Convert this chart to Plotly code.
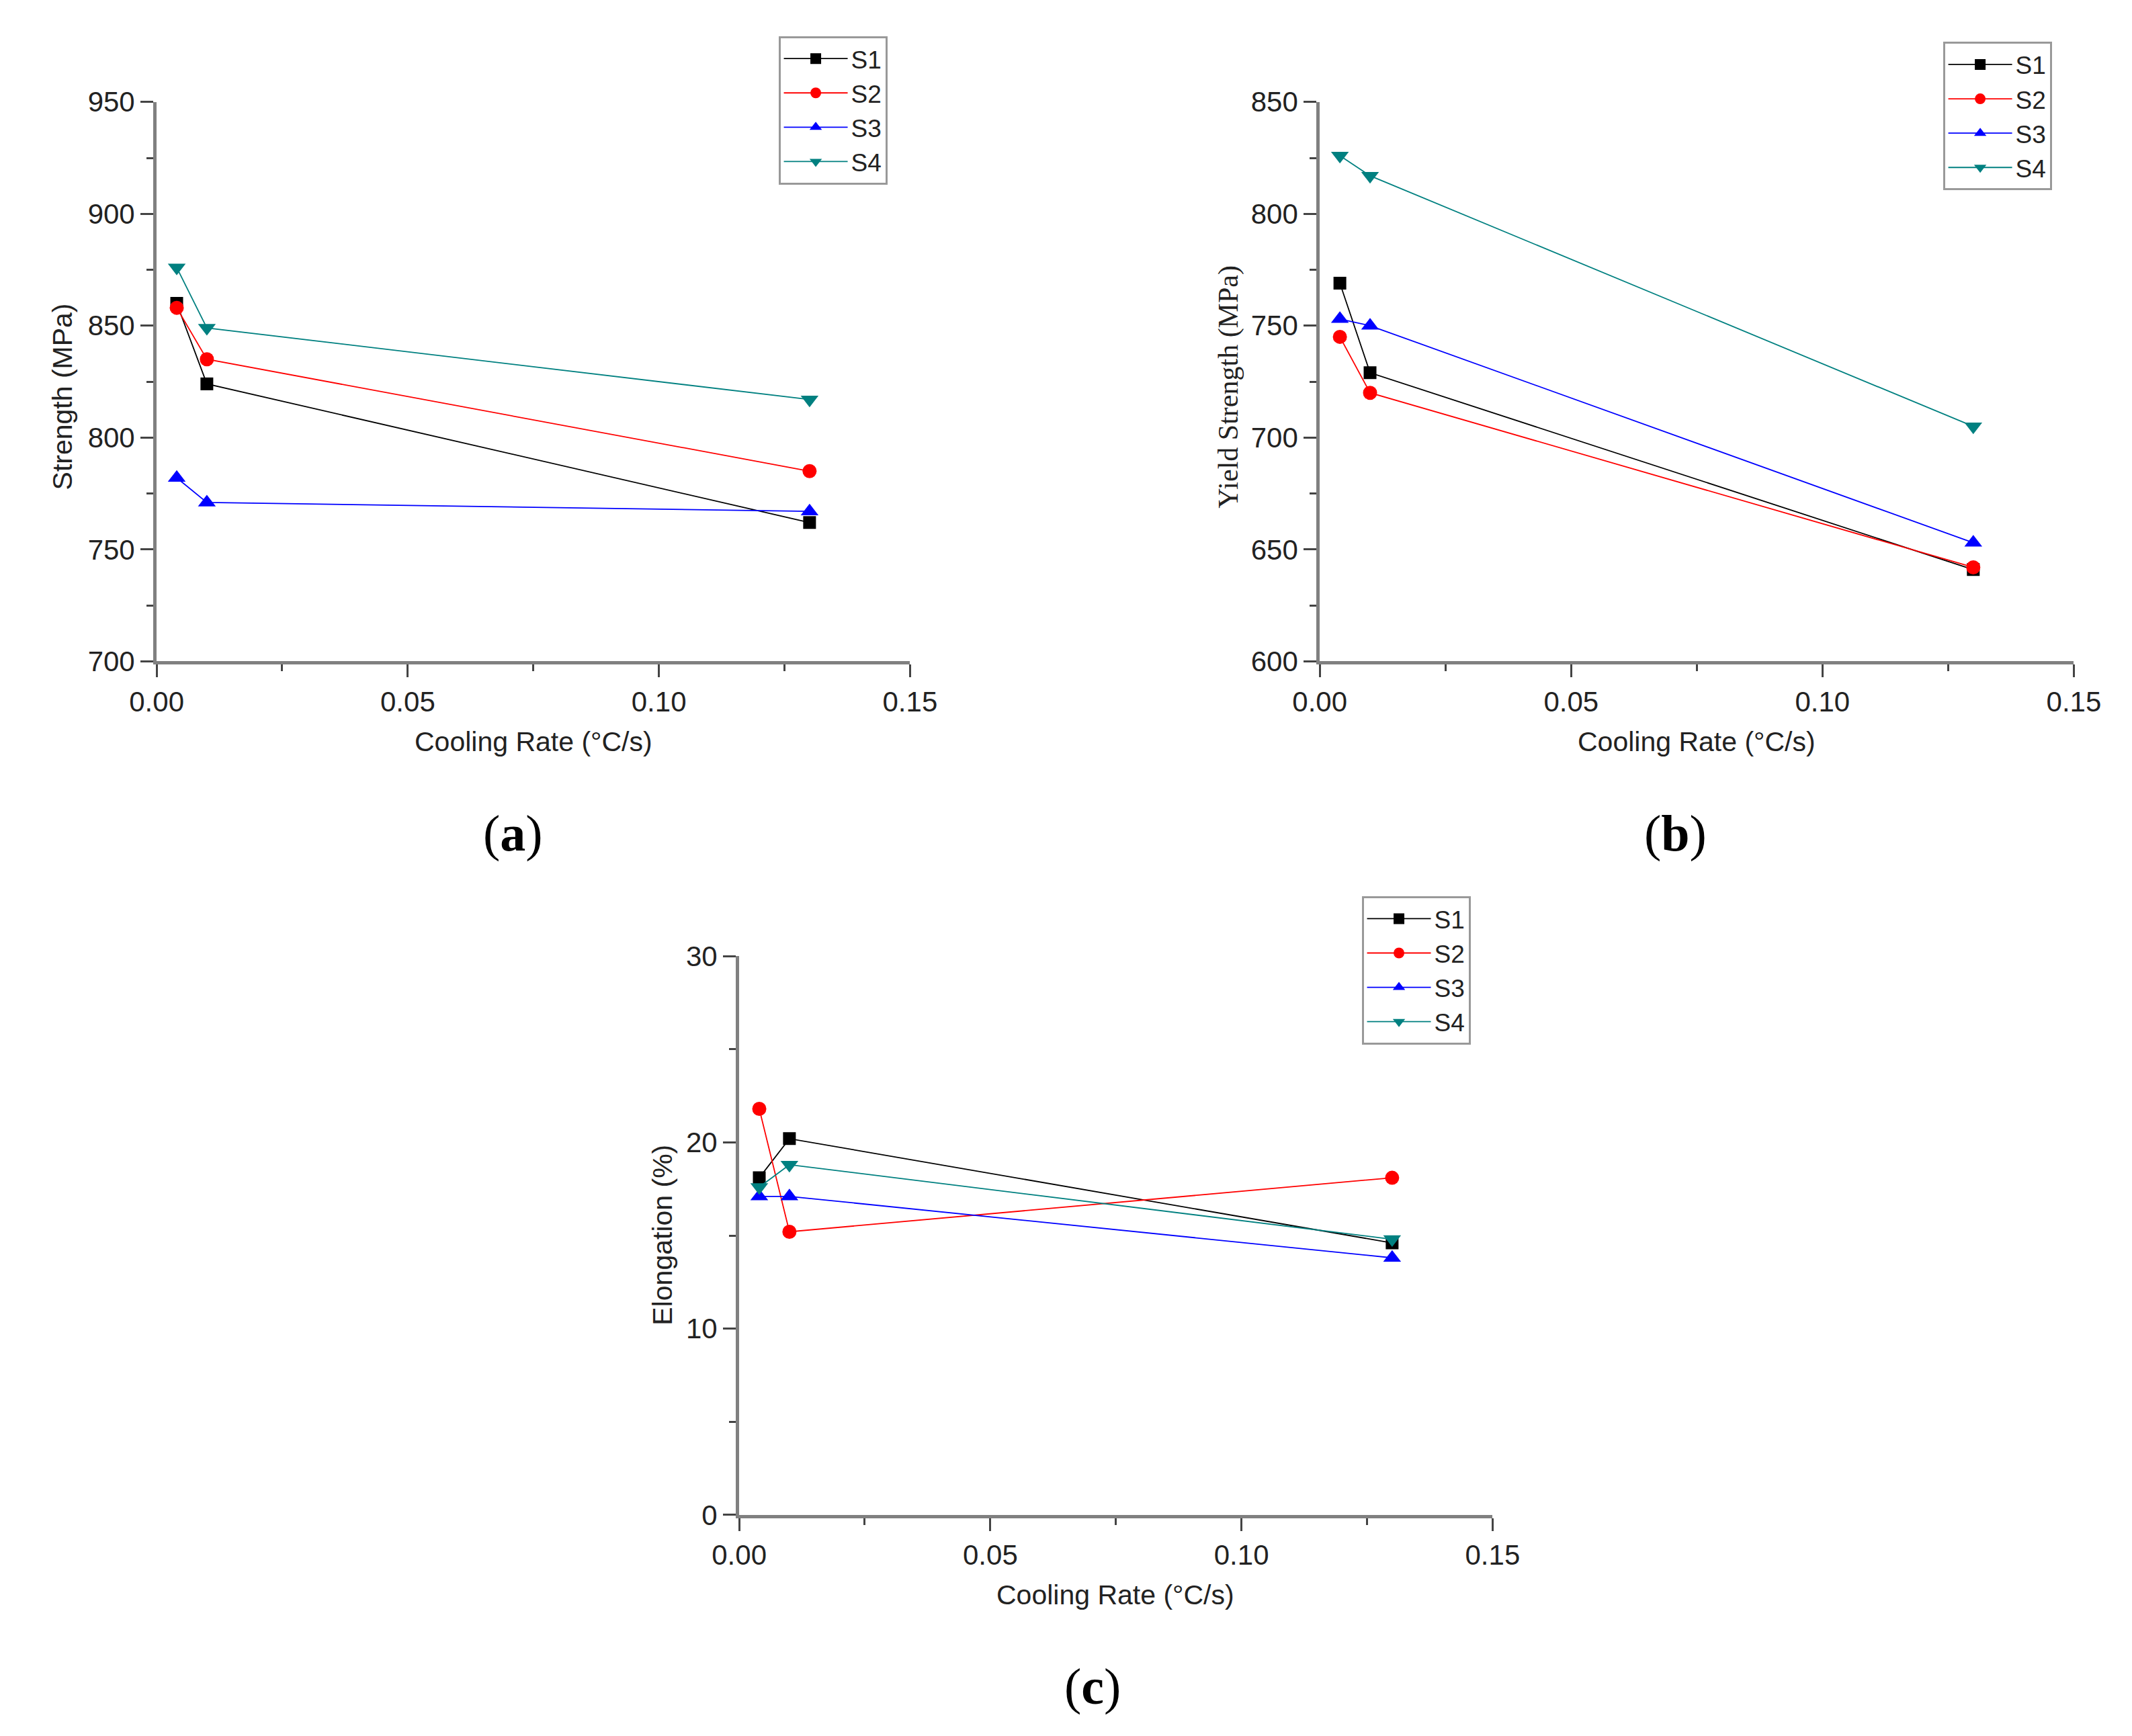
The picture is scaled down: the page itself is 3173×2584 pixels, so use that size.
import plotly.graph_objs as go

# cooling rate (°C/s), same three conditions for every panel
cooling_rate = [0.004, 0.01, 0.13]
series_names = ["S1", "S2", "S3", "S4"]

# (a) strength, MPa
strength_s1 = [860, 824, 762]
strength_s2 = [858, 835, 785]
strength_s3 = [782, 771, 767]
strength_s4 = [876, 849, 817]

# (b) yield strength, MPa
yield_s1 = [769, 729, 641]
yield_s2 = [745, 720, 642]
yield_s3 = [753, 750, 653]
yield_s4 = [826, 817, 705]

# (c) elongation, %
elong_s1 = [18.1, 20.2, 14.6]
elong_s2 = [21.8, 15.2, 18.1]
elong_s3 = [17.1, 17.1, 13.8]
elong_s4 = [17.6, 18.8, 14.8]

colors = ["#000000", "#ff0000", "#0000ff", "#008080"]
symbols = ["square", "circle", "triangle-up", "triangle-down"]
sizes = [19, 21, 23, 23]

W, H = 3173, 2584
SANS = "Liberation Sans, Arial, sans-serif"
SERIF = "Liberation Serif, Times New Roman, serif"


def px_x(p):
    return p / W


def px_y(p):
    return 1 - p / H


fig = go.Figure()

panels = [
    ("x", "y", "legend", [strength_s1, strength_s2, strength_s3, strength_s4]),
    ("x2", "y2", "legend2", [yield_s1, yield_s2, yield_s3, yield_s4]),
    ("x3", "y3", "legend3", [elong_s1, elong_s2, elong_s3, elong_s4]),
]

for xa, ya, leg, values in panels:
    for i, name in enumerate(series_names):
        fig.add_trace(go.Scatter(
            x=cooling_rate, y=values[i], name=name, mode="lines+markers",
            xaxis=xa, yaxis=ya, legend=leg,
            line=dict(color=colors[i], width=1.8),
            marker=dict(symbol=symbols[i], size=sizes[i], color=colors[i]),
        ))

tick_font = dict(family=SANS, size=42, color="#222222")


def x_axis(domain, anchor):
    return dict(
        domain=domain, anchor=anchor, range=[0, 0.15], dtick=0.05, tick0=0,
        tickformat=".2f", showgrid=False, zeroline=False,
        showline=True, linecolor="#808080", linewidth=5,
        ticks="outside", ticklen=19, tickwidth=3, tickcolor="#444444",
        minor=dict(dtick=0.025, ticks="outside", ticklen=10, tickwidth=3, tickcolor="#444444"),
        tickfont=tick_font,
    )


def y_axis(domain, anchor, rng, dtick):
    return dict(
        domain=domain, anchor=anchor, range=rng, dtick=dtick, tick0=rng[0],
        showgrid=False, zeroline=False,
        showline=True, linecolor="#808080", linewidth=5,
        ticks="outside", ticklen=19, tickwidth=3, tickcolor="#444444",
        minor=dict(dtick=dtick / 2, ticks="outside", ticklen=10, tickwidth=3, tickcolor="#444444"),
        tickfont=tick_font,
    )


def legend_box(x, y):
    return dict(
        x=px_x(x), y=px_y(y), xanchor="left", yanchor="top",
        bgcolor="white", bordercolor="#999999", borderwidth=3,
        font=dict(family=SANS, size=37, color="#222222"),
        tracegroupgap=0, itemwidth=95,
    )


ya_dom = [px_y(971), px_y(123)]
yc_dom = [px_y(2265), px_y(1418)]

fig.update_layout(
    width=W, height=H, margin=dict(l=0, r=0, t=0, b=0),
    paper_bgcolor="white", plot_bgcolor="white",
    xaxis=x_axis([px_x(189), px_x(1340)], "y"),
    yaxis=y_axis(ya_dom, "x", [700, 950], 50),
    xaxis2=x_axis([px_x(1966), px_x(3118)], "y2"),
    yaxis2=y_axis(ya_dom, "x2", [600, 850], 50),
    xaxis3=x_axis([px_x(1079), px_x(2230)], "y3"),
    yaxis3=y_axis(yc_dom, "x3", [0, 30], 10),
    legend=legend_box(1139, 23),
    legend2=legend_box(2918, 32),
    legend3=legend_box(2030, 1327),
)

title_font = dict(family=SANS, size=41, color="#222222")
annotations = [
    # axis titles
    dict(text="Strength (MPa)", x=px_x(45), y=px_y(570), textangle=-90, font=title_font),
    dict(text="Yield Strength (MPa)", x=px_x(1827), y=px_y(555), textangle=-90,
         font=dict(family=SERIF, size=42, color="#222222")),
    dict(text="Elongation (%)", x=px_x(961), y=px_y(1841), textangle=-90, font=title_font),
    dict(text="Cooling Rate (°C/s)", x=px_x(765), y=px_y(1093), font=title_font),
    dict(text="Cooling Rate (°C/s)", x=px_x(2542), y=px_y(1093), font=title_font),
    dict(text="Cooling Rate (°C/s)", x=px_x(1654), y=px_y(2386), font=title_font),
    # panel labels
    dict(text="(<b>a</b>)", x=px_x(733), y=px_y(1232), font=dict(family=SERIF, size=76, color="black")),
    dict(text="(<b>b</b>)", x=px_x(2509), y=px_y(1232), font=dict(family=SERIF, size=76, color="black")),
    dict(text="(<b>c</b>)", x=px_x(1619), y=px_y(2525), font=dict(family=SERIF, size=76, color="black")),
]
for a in annotations:
    a.update(xref="paper", yref="paper", showarrow=False, xanchor="center", yanchor="middle")
fig.update_layout(annotations=annotations)

fig.write_html("out.html")
